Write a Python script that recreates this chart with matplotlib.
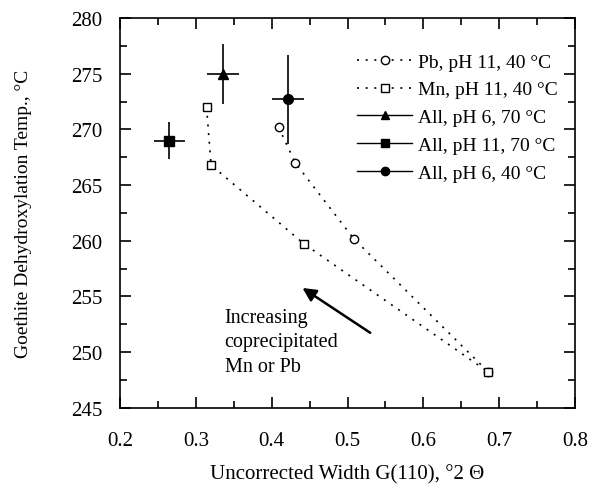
import matplotlib.pyplot as plt
import matplotlib.lines as lines
from matplotlib.ticker import MultipleLocator

plt.rcParams['font.family'] = ['Liberation Serif', 'DejaVu Serif']

# Pb, pH 11, 40 C (open circles)
pb_x = [0.409, 0.431, 0.508, 0.686]
pb_y = [270.2, 267.0, 260.2, 248.2]
# Mn, pH 11, 40 C (open squares)
mn_x = [0.314, 0.320, 0.443, 0.686]
mn_y = [272.0, 266.8, 259.7, 248.2]
# single points with error bars
all_labels = ['All, pH 6, 70 °C', 'All, pH 11, 70 °C', 'All, pH 6, 40 °C']
all_markers = ['^', 's', 'o']
all_x = [0.336, 0.265, 0.421]
all_y = [275.0, 269.0, 272.7]
all_xerr = [0.021, 0.021, 0.021]
all_yerr = [2.7, 1.7, 4.0]

fig = plt.figure(figsize=(5.89, 4.89), dpi=100)
ax = fig.add_axes([0.204, 0.164, 0.772, 0.797])

dotted = (0, (1.2, 4))
ax.plot(pb_x, pb_y, linestyle=dotted, color='black', linewidth=1.2,
        marker='o', markersize=6, markerfacecolor='white', markeredgecolor='black', zorder=3)
ax.plot(mn_x, mn_y, linestyle=dotted, color='black', linewidth=1.2,
        marker='s', markersize=6, markerfacecolor='white', markeredgecolor='black', zorder=3)

for x, y, xe, ye, m in zip(all_x, all_y, all_xerr, all_yerr, all_markers):
    ax.errorbar(x, y, xerr=xe, yerr=ye, fmt=m, color='black', markersize=7,
                elinewidth=1.2, capsize=0, zorder=4)

handles = [
    lines.Line2D([0], [0], linestyle=dotted, color='black', linewidth=1.2, marker='o',
                 markerfacecolor='white', markersize=6, label='Pb, pH 11, 40 °C'),
    lines.Line2D([0], [0], linestyle=dotted, color='black', linewidth=1.2, marker='s',
                 markerfacecolor='white', markersize=6, label='Mn, pH 11, 40 °C'),
]
for lab, m in zip(all_labels, all_markers):
    handles.append(lines.Line2D([0], [0], linestyle='-', color='black', linewidth=1,
                                marker=m, markersize=6, label=lab))
ax.legend(handles=handles, loc='upper right', bbox_to_anchor=(1.0, 0.955), frameon=False,
          fontsize=14, handlelength=2.8, handletextpad=0.3, labelspacing=0.52)

# arrow and annotation
ax.annotate('', xy=(0.4375, 255.9), xytext=(0.533, 251.6),
            arrowprops=dict(arrowstyle='-|>', color='black', lw=1.8, mutation_scale=20))
ax.text(0.338, 254.0, 'Increasing\ncoprecipitated\nMn or Pb', fontsize=14.5,
        va='top', ha='left', linespacing=1.4)

ax.set_xlim(0.2, 0.8)
ax.set_ylim(245, 280)
ax.xaxis.set_major_locator(MultipleLocator(0.1))
ax.xaxis.set_minor_locator(MultipleLocator(0.05))
ax.yaxis.set_major_locator(MultipleLocator(5))
ax.yaxis.set_minor_locator(MultipleLocator(2.5))
ax.tick_params(which='both', direction='in', top=True, right=True, labelsize=15, width=1.2)
ax.tick_params(which='major', length=8)
ax.tick_params(which='minor', length=5)
ax.tick_params(axis='x', pad=17)
ax.tick_params(axis='y', pad=13)
for s in ax.spines.values():
    s.set_linewidth(1.2)

ax.set_xlabel('Uncorrected Width G(110), °2 Θ', fontsize=15, labelpad=10)
ax.set_ylabel('Goethite Dehydroxylation Temp., °C', fontsize=14, labelpad=28)

plt.savefig('out.png', dpi=100)
